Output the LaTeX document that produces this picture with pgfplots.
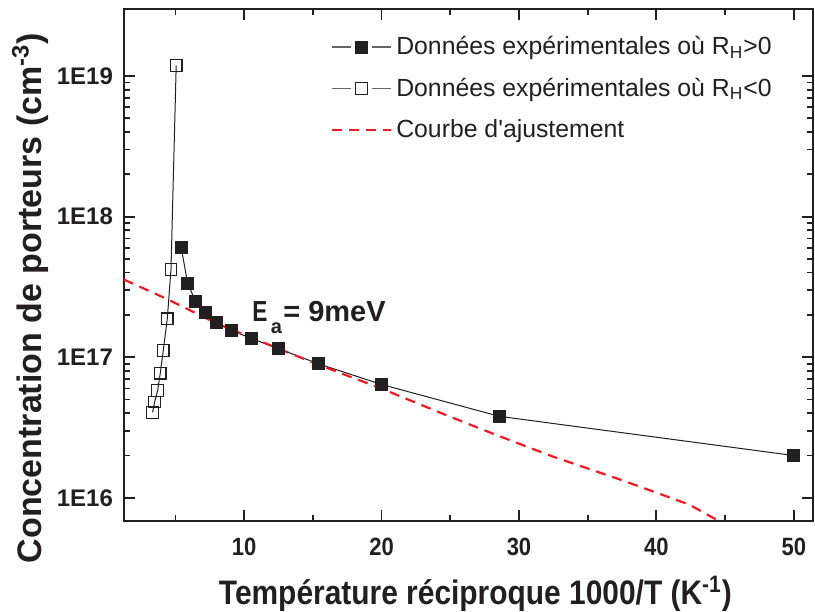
\documentclass[border=0pt]{standalone}
\usepackage{pgfplots}
\pgfplotsset{compat=1.18}
\usepackage{fontspec}
\setmainfont{Liberation Sans}
\newfontfamily\condensed[FakeStretch=0.88]{Liberation Sans}
\definecolor{fitred}{RGB}{237,28,36}
\definecolor{ink}{RGB}{35,31,32}
\pgfplotsset{
  linelegend/.style={legend image code/.code={\draw[##1] (0pt,0pt) -- (29.5pt,0pt);}},
}
\begin{document}
\begin{tikzpicture}
\begin{axis}[
  scale only axis,
  width=344.5pt, height=256pt,
  ymode=log,
  xmin=1.25, xmax=51.4,
  ymin=6.85e15, ymax=3.0e19,
  axis line style={line width=1.1pt, ink},
  xtick={10,20,30,40,50},
  xticklabels={10,20,30,40,50},
  minor xtick={5,15,25,35,45},
  ytick={1e16,1e17,1e18,1e19},
  yticklabels={1E16,1E17,1E18,1E19},
  tick align=inside,
  xtick pos=both, ytick pos=both,
  major tick length=5.5pt, minor tick length=3pt,
  every tick/.style={line width=0.9pt, ink},
  xticklabel style={font=\condensed\bfseries\fontsize{12.5}{14}\selectfont, yshift=-5pt, text=ink},
  yticklabel style={font=\bfseries\fontsize{12}{14}\selectfont, xshift=-2pt, text=ink},
  xlabel={Température réciproque 1000/T (K\textsuperscript{-1})},
  ylabel={Concentration de porteurs (cm\textsuperscript{-3})},
  xlabel style={font=\condensed\bfseries\fontsize{17}{20}\selectfont, at={(rel axis cs:0.51,-0.142)}, anchor=center, text=ink},
  ylabel style={font=\bfseries\fontsize{17}{20}\selectfont, at={(rel axis cs:-0.1364,0.4355)}, rotate=0, anchor=center, text=ink},
  legend style={draw=none, fill=none, at={(rel axis cs:0.30,0.955)}, anchor=north west,
    font=\fontsize{12.4}{15}\selectfont, row sep=6.2pt, inner sep=0pt, text=ink,
    /tikz/every even column/.append style={column sep=0pt}},
  legend cell align=left,
  legend image code/.code={%
    \draw[#1, mark=none, line width=0.6pt, black!60] (0pt,0pt) -- (9.5pt,0pt);
    \draw[#1, mark=none, line width=0.6pt, black!60] (20pt,0pt) -- (29.5pt,0pt);
    \draw[#1] plot coordinates {(14.75pt,0pt)};},
  clip=true,
]
\addplot[ink, line width=0.5pt, mark=square*, mark size=3pt, mark options={fill=ink, draw=ink, line width=0.4pt}]
coordinates {
(5.41,6.07e17) (5.88,3.37e17) (6.45,2.50e17) (7.14,2.07e17) (8.00,1.77e17)
(9.09,1.55e17) (10.53,1.36e17) (12.50,1.15e17) (15.38,9.0e16) (20.00,6.4e16)
(28.57,3.8e16) (50.00,2.0e16)
};
\addlegendentry{Données expérimentales où R\textsubscript{H}>0}
\addplot[ink, line width=0.5pt, mark=square, mark size=2.9pt, mark options={fill=white, draw=ink, line width=0.6pt}]
coordinates {
(3.33,4.05e16) (3.48,4.8e16) (3.70,5.8e16) (3.89,7.7e16) (4.11,1.12e17)
(4.40,1.88e17) (4.67,4.2e17) (5.05,1.19e19)
};
\addlegendentry{Données expérimentales où R\textsubscript{H}<0}
\addplot[fitred, line width=1.1pt, dash pattern=on 5pt off 3.5pt, linelegend]
coordinates {
(1.24,3.57e17) (4.47,2.57e17) (7.99,1.74e17) (12.6,1.14e17) (15.4,8.85e16)
(20.0,5.98e16) (25.0,3.77e16) (28.6,2.74e16) (32.5,1.96e16) (37.45,1.34e16)
(42.4,8.95e15) (45.2,6.3e15)
};
\addlegendentry{Courbe d\textquotesingle ajustement}
\node[anchor=base west, font=\bfseries\fontsize{14.5}{17}\selectfont, inner sep=0pt, text=ink] at (axis cs:10.56,1.80e17)
  {\scalebox{0.78}[1]{E}\kern1.8pt\raisebox{-6pt}{\fontsize{10}{12}\selectfont a}\kern0.6pt= 9meV};
\end{axis}
\pgfresetboundingbox
\path[use as bounding box] ([shift={(-62pt,-45.5pt)}]current axis.south west) rectangle ([shift={(1pt,4.5pt)}]current axis.north east);
\end{tikzpicture}
\end{document}
